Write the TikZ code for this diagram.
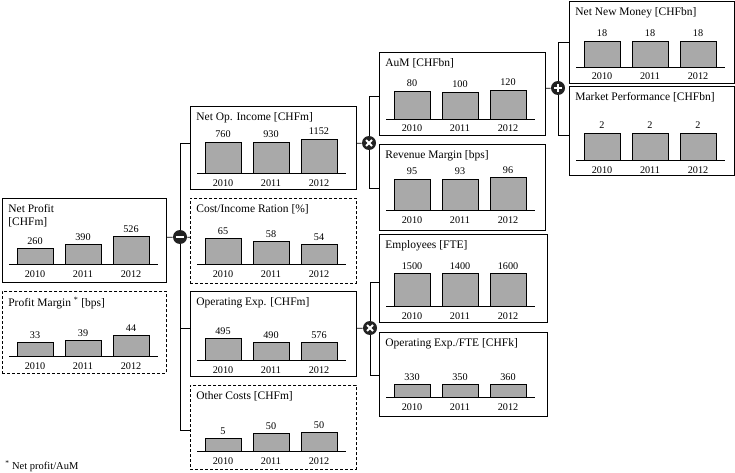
\documentclass[tikz,border=0pt]{standalone}
\usepackage{fontspec}
\setmainfont{Liberation Serif}
\definecolor{barfill}{HTML}{A9A9A9}
\definecolor{opfill}{HTML}{222222}
\newcommand\mkpanel[7]{% name, style, x, y, w, h, title
  \node[panelbox,#2,minimum width=#5pt,minimum height=#6pt] (#1) at (#3,#4) {};
  \node[ttl] (#1-t) at ([xshift=6pt,yshift=-6pt]#1.north west) {#7};}
\newcommand\mkbars[3]{% name, baseline offset from top, list h/v
  \begin{scope}[shift={(#1.north west)}]
    \draw[axis] (7,#2) -- (156,#2);
    \foreach \h/\v [count=\i] in {#3} {
      \pgfmathsetmacro\cx{33+48*(\i-1)}
      \draw[bar] (\cx-18,#2) rectangle (\cx+18,#2-\h);
      \node[num] at (\cx,#2-\h-4) {\v};
      \pgfmathtruncatemacro\yr{2009+\i}
      \node[num] at (\cx,#2+13) {\yr};
    }
  \end{scope}}
\begin{document}
\begin{tikzpicture}[x=1pt,y=-1pt,line width=0.7pt,
  panelbox/.style={draw,rectangle,anchor=north west,inner sep=0pt,line width=0.7pt},
  dashedbox/.style={dash pattern=on 3pt off 2pt},
  solidbox/.style={},
  bar/.style={draw,fill=barfill,line width=0.6pt},
  axis/.style={line width=0.8pt},
  ttl/.style={anchor=north west,inner sep=0pt,font=\fontsize{11.5}{13.5}\selectfont,align=left},
  num/.style={anchor=base,inner sep=0pt,font=\fontsize{10.2}{12}\selectfont},
  conn/.style={line width=0.7pt},
  op/.style={circle,fill=opfill,minimum size=14pt,inner sep=0pt},
  opminus/.style={op,path picture={\draw[white,line width=2.2pt]
      ([xshift=-4pt]path picture bounding box.center) -- ([xshift=4pt]path picture bounding box.center);}},
  opplus/.style={op,path picture={\draw[white,line width=2.2pt]
      ([xshift=-4pt]path picture bounding box.center) -- ([xshift=4pt]path picture bounding box.center)
      ([yshift=-4pt]path picture bounding box.center) -- ([yshift=4pt]path picture bounding box.center);}},
  optimes/.style={op,path picture={\draw[white,line width=2pt]
      ([shift={(-3pt,-3pt)}]path picture bounding box.center) -- ([shift={(3pt,3pt)}]path picture bounding box.center)
      ([shift={(-3pt,3pt)}]path picture bounding box.center) -- ([shift={(3pt,-3pt)}]path picture bounding box.center);}},
  fn/.style={anchor=base west,inner sep=0pt,font=\fontsize{10.5}{12}\selectfont}
]
\useasboundingbox (0,0) rectangle (735,473);

% panels
\mkpanel{np}{solidbox}{2}{198}{164}{84}{Net Profit\\ {[CHFm]}}
\mkbars{np}{66}{16/260,20/390,28/526}
\mkpanel{pm}{dashedbox}{2}{291}{164}{82}{Profit Margin \textsuperscript{*} [bps]}
\mkbars{pm}{65}{14/33,16/39,21/44}

\mkpanel{noi}{solidbox}{190}{106}{166}{83}{Net Op. Income [CHFm]}
\mkbars{noi}{67}{31/760,31/930,34/1152}
\mkpanel{cir}{dashedbox}{190}{198}{166}{85}{Cost/Income Ration [\%]}
\mkbars{cir}{66}{26/65,23/58,20/54}
\mkpanel{oe}{solidbox}{190}{291}{166}{85}{Operating Exp. [CHFm]}
\mkbars{oe}{69}{22/495,18/490,18/576}
\mkpanel{oc}{dashedbox}{190}{385}{166}{84}{Other Costs [CHFm]}
\mkbars{oc}{66}{13/5,18/50,19/50}

\mkpanel{aum}{solidbox}{379}{52}{166}{83}{AuM [CHFbn]}
\mkbars{aum}{67}{28/80,27/100,29/120}
\mkpanel{rm}{solidbox}{379}{144}{166}{86}{Revenue Margin [bps]}
\mkbars{rm}{66}{31/95,31/93,33/96}
\mkpanel{emp}{solidbox}{379}{234}{168}{88}{Employees [FTE]}
\mkbars{emp}{72}{33/1500,33/1400,33/1600}
\mkpanel{oef}{solidbox}{379}{332}{168}{84}{Operating Exp./FTE [CHFk]}
\mkbars{oef}{65}{13/330,13/350,13/360}

\mkpanel{nnm}{solidbox}{569}{1}{165}{82}{Net New Money [CHFbn]}
\mkbars{nnm}{66}{26/18,26/18,26/18}
\mkpanel{mp}{solidbox}{569}{86}{165}{89}{Market Performance [CHFbn]}
\mkbars{mp}{74}{27/2,27/2,27/2}

% operators
\node[opminus] (minus) at (180,237) {};
\node[optimes] (times1) at (369,143) {};
\node[opplus] (plus) at (558,88) {};
\node[optimes] (times2) at (370,328) {};

% connectors
\draw[conn] ([yshift=3pt]np.east) -- (minus);
\draw[conn] (minus) -- ([yshift=3.5pt]cir.west);
\draw[conn] ([yshift=4.5pt]noi.west) -| (minus);
\draw[conn] (minus) |- ([yshift=-3pt]oc.west);
\draw[conn] ([yshift=5.5pt]oe.west) -| (minus);

\draw[conn] ([yshift=4.5pt]noi.east) -- (times1);
\draw[conn] (times1) |- ([yshift=-2.5pt]aum.west);
\draw[conn] (times1) |- ([yshift=-1pt]rm.west);

\draw[conn] ([yshift=5.5pt]aum.east) -- (plus);
\draw[conn] (plus) |- (nnm.west);
\draw[conn] (plus) |- ([yshift=-4.5pt]mp.west);

\draw[conn] ([yshift=5.5pt]oe.east) -- (times2);
\draw[conn] (times2) |- ([yshift=-4pt]emp.west);
\draw[conn] (times2) |- ([yshift=-1pt]oef.west);

% footnote
\node[fn] (foot) at (5,469) {\textsuperscript{*} Net profit/AuM};
\end{tikzpicture}
\end{document}
